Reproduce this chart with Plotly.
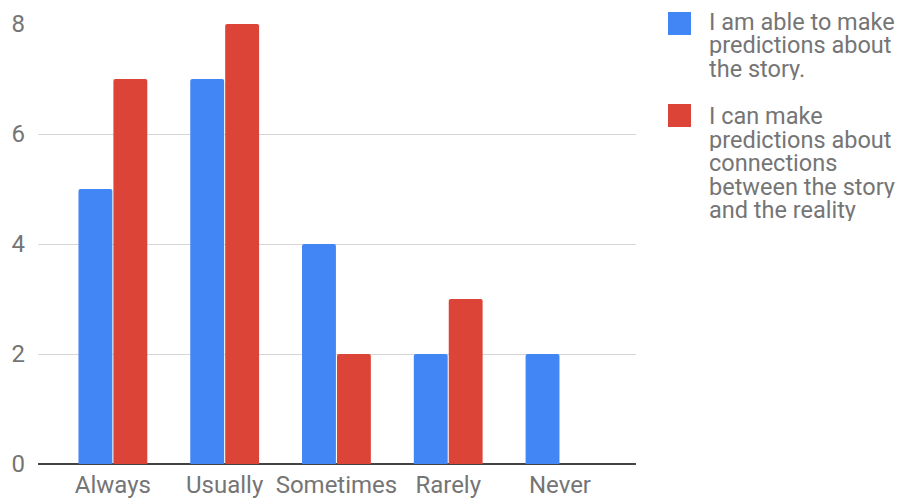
import plotly.graph_objects as go

categories = ["Always", "Usually", "Sometimes", "Rarely", "Never"]
series_names = [
    "I am able to make predictions about the story.",
    "I can make predictions about connections between the story and the reality",
]
able_to_predict = [5, 7, 4, 2, 2]
predict_connections = [7, 8, 2, 3, 0]
y_ticks = [0, 2, 4, 6, 8]

# legend text broken into display lines
legend_lines = [
    ["I am able to make", "predictions about", "the story."],
    ["I can make", "predictions about", "connections", "between the story", "and the reality"],
]

BLUE = "#4285F4"
RED = "#DB4437"
TEXT = "#757575"
FONT = "Roboto"

fig = go.Figure()
fig.add_trace(go.Bar(x=categories, y=able_to_predict, name=series_names[0],
                     marker=dict(color=BLUE, line=dict(width=0), cornerradius=2)))
fig.add_trace(go.Bar(x=categories, y=predict_connections, name=series_names[1],
                     marker=dict(color=RED, line=dict(width=0), cornerradius=2)))

fig.update_layout(
    width=902, height=498,
    margin=dict(l=38, r=266, t=24, b=34, autoexpand=False),
    plot_bgcolor="white", paper_bgcolor="white",
    barmode="group", bargap=0.375, bargroupgap=0.03,
    showlegend=False,
    font=dict(family=FONT, color=TEXT, size=24),
)
fig.update_xaxes(
    range=[-0.67, 4.68], showgrid=False, zeroline=False, showline=False,
    ticks="", tickfont=dict(size=24, color=TEXT), ticklabelstandoff=4,
    automargin=False,
)
fig.update_yaxes(
    range=[0, 8], tickvals=y_ticks, showgrid=True, gridcolor="#d6d6d6", gridwidth=1,
    zeroline=True, zerolinecolor="#444444", zerolinewidth=2, showline=False,
    ticks="", tickfont=dict(size=24, color=TEXT), ticklabelstandoff=12,
    automargin=False,
)

# custom legend: colored squares and wrapped labels at the right
colors = [BLUE, RED]
square_tops = [12, 104]
first_line_centers = [22, 116]
line_step = 23.5


def py(y_px):
    return 1 - (y_px - 24) / 440


def px(x_px):
    return (x_px - 38) / 598


for item, color in enumerate(colors):
    top = square_tops[item]
    fig.add_shape(type="rect", xref="paper", yref="paper",
                  x0=px(668), x1=px(691), y0=py(top), y1=py(top + 23),
                  fillcolor=color, line=dict(width=0), layer="above")
    for k, text in enumerate(legend_lines[item]):
        yc = first_line_centers[item] + k * line_step
        fig.add_annotation(xref="paper", yref="paper", x=px(707), y=py(yc),
                           text=text, showarrow=False, height=22,
                           xanchor="left", yanchor="middle", valign="middle",
                           font=dict(family=FONT, size=23.5, color=TEXT))

fig.write_html("out.html")
